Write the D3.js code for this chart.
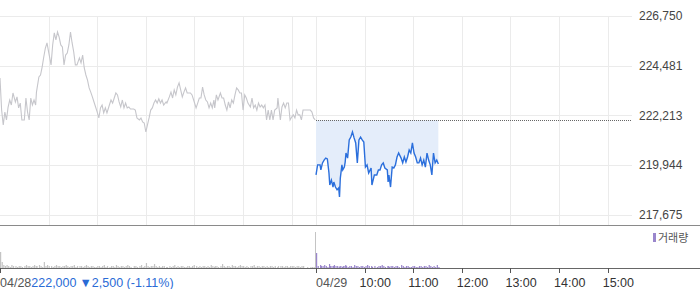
<!DOCTYPE html>
<html><head><meta charset="utf-8">
<script src="https://cdn.jsdelivr.net/npm/d3@7"></script>
<style>
html,body{margin:0;padding:0;background:#fff;}
svg{display:block;font-family:"Liberation Sans",Arial,sans-serif;}
</style></head>
<body><div id="chart"></div>
<script>
// ---- data ----
const prevClose = 222000;
const yTickValues = [217675, 219944, 222213, 224481, 226750];
const hourLabels = ["10:00","11:00","12:00","13:00","14:00","15:00"];
const hourMinutes = [60,120,180,240,300,360];
const dayLabels = ["04/28","04/29"];
const priceText = "222,000";
const changeText = "▼2,500 (-1.11%)";
const legendText = "거래량";

// day 1 (04/28): minutes since 09:00, price
const day1Min = [0,2,4,6,8,10,12,14,16,19,21,23,25,27,30,32,34,36,38,40,42,44,45,48,50,52,54,56,58,60,
63,65,67,69,71,73,75,77,79,81,83,85,87,89,91,93,95,98,100,102,104,106,108,110,112,114,116,118,120,122,
124,126,128,130,132,135,137,139,141,143,145,147,149,151,153,155,157,159,161,165,167,169,172,174,176,178,180,182,184,186,
188,190,192,194,196,198,200,202,205,206,209,211,213,215,217,219,221,223,225,227,229,231,233,235,237,239,242,244,246,248,
250,252,254,256,258,260,262,264,265,267,269,272,274,276,278,280,282,284,286,288,290,292,294,296,298,300,302,304,306,309,
311,313,315,317,319,321,323,325,327,329,331,333,335,337,339,342,343,346,348,350,352,354,356,358,360,362,364,366,368,370,
372,374,379,383,385,387,389];
const day1Price = [223920,222460,221780,222370,222010,222600,222920,222690,223240,222830,223060,222560,222780,222010,222010,223010,222370,222010,223010,222690,222920,222690,223280,223970,224060,224420,224880,225290,225520,225110,
224520,225430,225980,225660,226020,225790,225430,225340,224520,224970,225060,225430,226020,225520,225110,224520,224520,224840,224610,224970,224380,224060,223830,223470,223280,223060,222830,222600,222370,222100,
222560,222690,222330,222560,222330,222690,222920,222780,223010,223240,223150,222830,222600,222920,222560,222780,222560,222600,222510,222510,222460,222100,222010,222100,221920,221870,221460,221780,222100,222460,
222560,222780,222920,222780,222970,222780,222920,222690,222830,222780,223060,223280,223010,223380,223150,223510,223700,223380,223060,223280,223470,223240,223240,223240,223150,222920,222560,222780,223010,223010,
223510,223150,222920,222830,222560,222780,222560,222920,222560,223150,222920,223240,223010,223010,222690,222460,222830,222560,222920,222780,223150,223470,223380,223240,223240,222460,223150,223010,222780,222600,
223010,222560,222690,222460,222780,222600,222690,222560,222690,222010,222460,222010,222460,222010,222460,222560,223010,222010,222600,222780,222560,222780,222780,222010,222140,222240,222100,222460,222240,222240,
222010,222460,222460,222460,222370,222100,222010];
// day 1 volume (thousand shares)
const day1Vol = [16,6,3,2,3,2,1,3,2,2, 1,2,2,1,2,3,2,2,1,2, 3,2,2,3,2,1,6,2,3,2, 2,1,2,3,2,2,1,2,2,3,
2,1,2,2,3,1,2,2,2,1, 2,3,2,1,2,2,1,1,2,2, 1,2,3,1,2,1,2,2,1,3, 2,1,2,2,1,2,3,2,1,2,
2,1,2,3,1,2,5,2,1,2, 2,4,2,1,2,1,2,2,1,1, 2,1,2,3,1,2,1,2,2,1, 1,2,2,1,2,3,2,1,2,1,
2,2,1,2,1,3,2,1,2,2, 1,2,4,2,1,2,2,1,3,2, 2,1,2,3,2,2,1,2,1,2, 2,3,1,2,2,1,2,2,1,2,
1,2,2,1,2,1,2,2,2,1, 2,2,1,2,2,2,1,2,2,1, 2,2,1,1,1,1,1];
const day1CloseMin = 390;
const day1CloseVol = 36;

// day 2 (04/29)
const day2Min = [0,2,5,6,8,10,12,14,16,17,19,21,22,24,26,28,29,30,32,33,35,36,37,39,41,43,45,47,49,51,
53,55,57,59,61,63,65,68,69,72,75,77,79,81,83,85,88,89,90,92,94,96,98,100,102,105,107,109,111,113,
115,117,119,121,123,125,127,129,131,133,135,137,139,141,143,145,147,149,151];
const day2Price = [219500,219960,219960,219730,220050,220180,220270,220230,219590,219040,219270,218950,219180,218950,218820,218910,218500,219360,219960,219730,219860,220090,220500,220270,221100,221230,221460,221190,220960,220050,
221100,221230,221100,221000,219860,219960,219590,219820,219040,219500,219500,219730,219730,219960,220050,219820,219730,219180,219500,218950,219860,219820,219960,220320,220500,220270,220050,220320,220090,220320,
220640,220500,220960,220500,220320,220050,220050,220270,219960,220180,219860,220500,220180,219960,219500,220500,220050,220180,220000];
const day2Vol = [15,2,3,2,2,3,2,1,4,2, 2,2,3,2,2,1,2,2,1,2, 2,3,2,1,2,2,1,3,2,2, 1,2,2,1,2,3,2,2,1,2,
1,2,2,3,2,1,2,2,1,2, 2,1,2,2,1,3,2,1,2,2, 1,1,2,2,1,1,2,2,1,2, 2,1,3,2,1,2,1,3,1];
const dayLength = 390;

// ---- layout ----
const W = 700, H = 289;
const plotL = 0, plotR = 632;
const priceTop = 16, priceBot = 215;
const sepY = 225.5;
const volTop = 226, volBot = 268;

const svg = d3.select("#chart").append("svg").attr("width", W).attr("height", H);

const x = d3.scaleLinear().domain([0, dayLength*2]).range([plotL, plotR]);
const y = d3.scaleLinear().domain([yTickValues[0], yTickValues[yTickValues.length-1]]).range([priceBot, priceTop]);
const yv = d3.scaleLinear().domain([0, 42]).range([volBot, volTop]);

const grid = "#ebebeb";
svg.append("g").selectAll("line").data(yTickValues).join("line")
  .attr("x1", plotL).attr("x2", plotR)
  .attr("y1", d => Math.round(y(d)) + 0.5).attr("y2", d => Math.round(y(d)) + 0.5)
  .attr("stroke", grid).attr("stroke-width", 1);
const vMins = hourMinutes.concat([dayLength]).concat(hourMinutes.map(m => m + dayLength));
svg.append("g").selectAll("line").data(vMins).join("line")
  .attr("x1", d => Math.round(x(d)) + 0.5).attr("x2", d => Math.round(x(d)) + 0.5)
  .attr("y1", priceTop).attr("y2", sepY)
  .attr("stroke", grid).attr("stroke-width", 1);

const fmt = d3.format(",");
svg.append("g").selectAll("text").data(yTickValues).join("text")
  .attr("x", 639).attr("y", d => y(d)).attr("dy", "0.35em")
  .attr("font-size", 12).attr("fill", "#444").text(d => fmt(d));

const d2 = day2Min.map((m, i) => ({m: m + dayLength, p: day2Price[i], v: day2Vol[i]}));
const d1 = day1Min.map((m, i) => ({m: m, p: day1Price[i], v: day1Vol[i]}));

svg.append("path").datum(d2)
  .attr("d", d3.area().x(d => x(d.m)).y0(y(prevClose)).y1(d => y(d.p)))
  .attr("fill", "#e4edfa");

svg.append("line")
  .attr("x1", x(dayLength)).attr("x2", plotR)
  .attr("y1", Math.round(y(prevClose)) + 0.5).attr("y2", Math.round(y(prevClose)) + 0.5)
  .attr("stroke", "#666").attr("stroke-width", 1).attr("stroke-dasharray", "1,1");

svg.append("path").datum(d1)
  .attr("d", d3.line().x(d => x(d.m)).y(d => y(d.p)))
  .attr("fill", "none").attr("stroke", "#c6c6cb").attr("stroke-width", 1.1);

svg.append("path").datum(d2)
  .attr("d", d3.line().x(d => x(d.m)).y(d => y(d.p)))
  .attr("fill", "none").attr("stroke", "#2b6fdc").attr("stroke-width", 1.4);

svg.append("line").attr("x1", 0).attr("x2", W).attr("y1", sepY).attr("y2", sepY)
  .attr("stroke", "#8a8a8a").attr("stroke-width", 1);

svg.append("g").selectAll("rect").data(d1).join("rect")
  .attr("x", d => x(d.m)).attr("width", 1.2)
  .attr("y", d => yv(d.v)).attr("height", d => volBot - yv(d.v))
  .attr("fill", "#c4c4c4");
svg.append("rect").attr("x", Math.round(x(day1CloseMin)) - 1).attr("width", 1)
  .attr("y", yv(day1CloseVol)).attr("height", volBot - yv(day1CloseVol)).attr("fill", "#c4c4c4");
svg.append("g").selectAll("rect").data(d2).join("rect")
  .attr("x", d => x(d.m)).attr("width", 1.2)
  .attr("y", d => yv(d.v)).attr("height", d => volBot - yv(d.v))
  .attr("fill", "#9a86cc");

svg.append("line").attr("x1", 0).attr("x2", W).attr("y1", volBot + 0.5).attr("y2", volBot + 0.5)
  .attr("stroke", "#666").attr("stroke-width", 1);

const tickMins = [0, dayLength].concat(hourMinutes.map(m => m + dayLength));
svg.append("g").selectAll("line").data(tickMins).join("line")
  .attr("x1", d => Math.round(x(d)) + 0.5).attr("x2", d => Math.round(x(d)) + 0.5)
  .attr("y1", volBot).attr("y2", volBot + 5)
  .attr("stroke", "#555").attr("stroke-width", 1);

const labelY = 287;
const t0 = svg.append("text").attr("x", x(0)).attr("y", labelY).attr("font-size", 12.5).attr("fill", "#555");
t0.append("tspan").text(dayLabels[0]);
t0.append("tspan").attr("fill", "#2a6bd6").text(priceText);
t0.append("tspan").attr("fill", "#2a6bd6").attr("dx", 3).text(changeText);
svg.append("text").attr("x", x(dayLength)).attr("y", labelY).attr("font-size", 12.5).attr("fill", "#555").text(dayLabels[1]);
svg.append("g").selectAll("text").data(hourMinutes).join("text")
  .attr("x", (d) => x(d + dayLength) - 5).attr("y", labelY)
  .attr("font-size", 12.5).attr("fill", "#333").text((d, i) => hourLabels[i]);

svg.append("rect").attr("x", 653).attr("y", 233).attr("width", 3).attr("height", 9).attr("fill", "#9a86cc");
svg.append("text").attr("x", 658).attr("y", 238).attr("dy", "0.35em")
  .attr("font-size", 11).attr("fill", "#555")
  .attr("font-family", "'Noto Sans CJK KR', sans-serif").text(legendText);
</script></body></html>
